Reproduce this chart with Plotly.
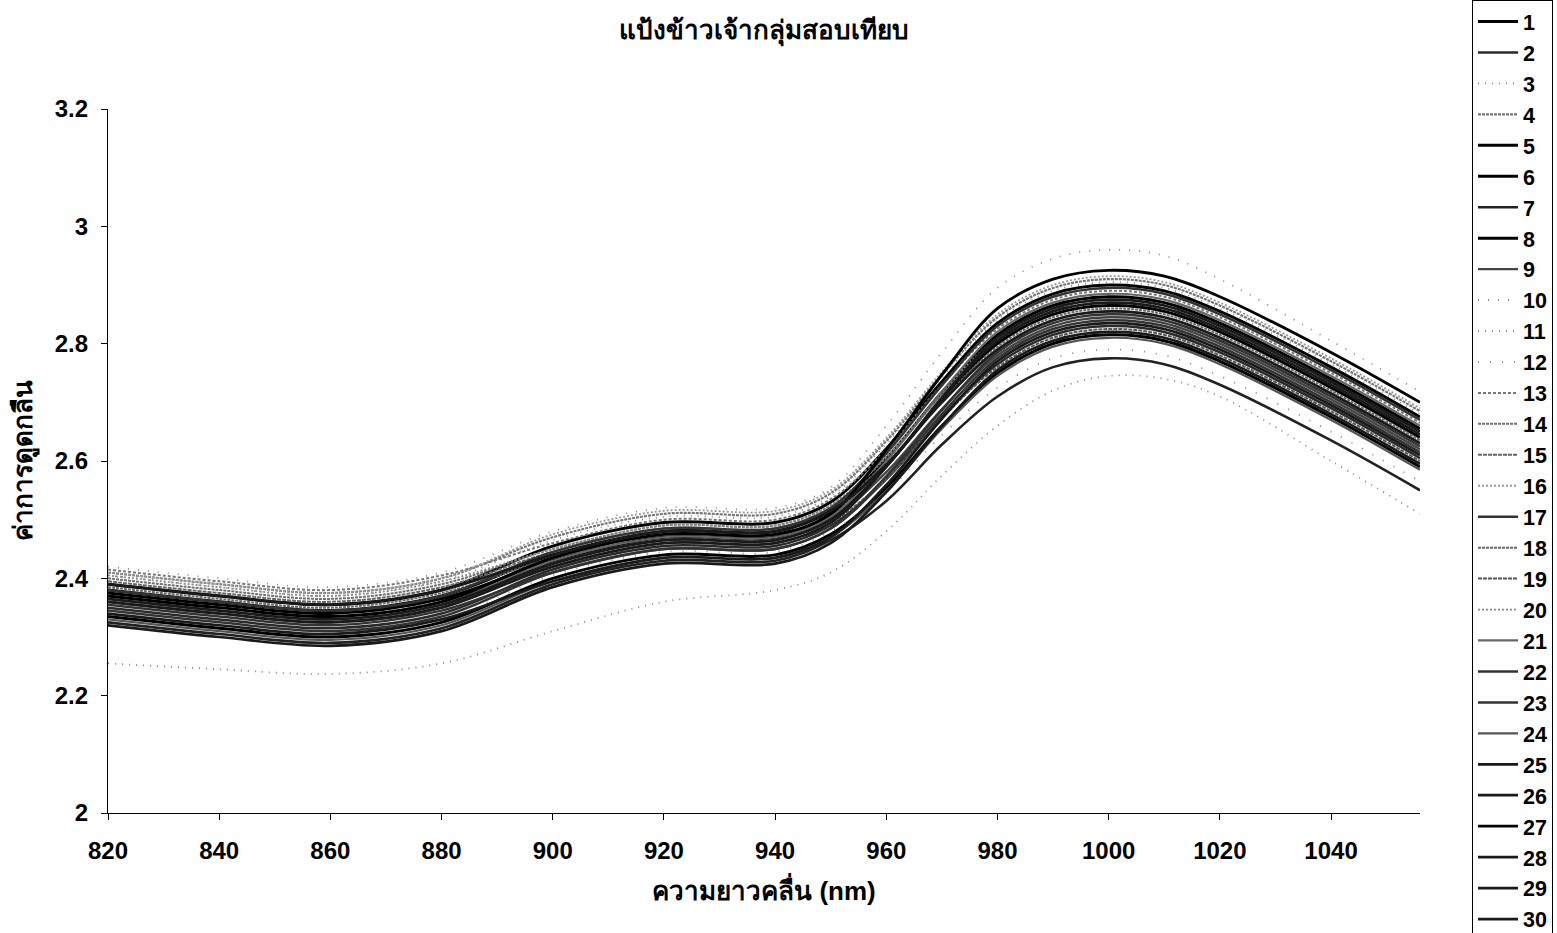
import plotly.graph_objects as go

wavelength = [820, 840, 860, 880, 900, 920, 940, 950, 960, 970, 980, 990, 1000, 1010, 1020, 1040, 1056]

s1 = [2.380, 2.360, 2.345, 2.370, 2.440, 2.480, 2.480, 2.515, 2.604, 2.717, 2.815, 2.865, 2.880, 2.870, 2.835, 2.740, 2.655]
s2 = [2.350, 2.330, 2.315, 2.340, 2.415, 2.455, 2.455, 2.490, 2.569, 2.675, 2.765, 2.815, 2.830, 2.820, 2.785, 2.690, 2.605]
s3 = [2.255, 2.245, 2.237, 2.255, 2.310, 2.360, 2.380, 2.410, 2.480, 2.575, 2.660, 2.720, 2.745, 2.740, 2.710, 2.600, 2.510]
s4 = [2.410, 2.390, 2.375, 2.400, 2.470, 2.510, 2.510, 2.545, 2.634, 2.747, 2.845, 2.895, 2.910, 2.900, 2.865, 2.770, 2.685]
s5 = [2.335, 2.315, 2.300, 2.325, 2.400, 2.440, 2.440, 2.475, 2.554, 2.660, 2.750, 2.800, 2.815, 2.805, 2.770, 2.675, 2.590]
s6 = [2.375, 2.355, 2.340, 2.365, 2.430, 2.470, 2.470, 2.505, 2.592, 2.704, 2.800, 2.850, 2.865, 2.855, 2.820, 2.725, 2.640]
s7 = [2.325, 2.305, 2.290, 2.315, 2.390, 2.430, 2.430, 2.465, 2.532, 2.628, 2.710, 2.760, 2.775, 2.765, 2.730, 2.635, 2.550]
s8 = [2.390, 2.370, 2.355, 2.380, 2.455, 2.495, 2.495, 2.530, 2.621, 2.735, 2.835, 2.885, 2.900, 2.890, 2.855, 2.760, 2.675]
s9 = [2.360, 2.340, 2.325, 2.350, 2.425, 2.465, 2.465, 2.500, 2.581, 2.688, 2.780, 2.830, 2.845, 2.835, 2.800, 2.705, 2.620]
s10 = [2.420, 2.400, 2.385, 2.410, 2.480, 2.520, 2.520, 2.555, 2.660, 2.785, 2.895, 2.945, 2.960, 2.950, 2.910, 2.805, 2.718]
s11 = [2.405, 2.385, 2.370, 2.395, 2.465, 2.505, 2.505, 2.540, 2.629, 2.742, 2.840, 2.890, 2.905, 2.895, 2.860, 2.765, 2.680]
s12 = [2.340, 2.320, 2.305, 2.330, 2.405, 2.445, 2.445, 2.480, 2.547, 2.644, 2.725, 2.775, 2.790, 2.780, 2.745, 2.650, 2.565]
s13 = [2.415, 2.395, 2.380, 2.405, 2.460, 2.500, 2.500, 2.535, 2.620, 2.730, 2.825, 2.875, 2.890, 2.880, 2.845, 2.750, 2.665]
s14 = [2.400, 2.380, 2.365, 2.390, 2.450, 2.490, 2.490, 2.525, 2.606, 2.713, 2.805, 2.855, 2.870, 2.860, 2.825, 2.730, 2.645]
s15 = [2.395, 2.375, 2.360, 2.385, 2.445, 2.485, 2.485, 2.520, 2.597, 2.701, 2.790, 2.840, 2.855, 2.845, 2.810, 2.715, 2.630]
s16 = [2.410, 2.390, 2.375, 2.400, 2.475, 2.515, 2.515, 2.550, 2.639, 2.752, 2.850, 2.900, 2.915, 2.905, 2.870, 2.775, 2.690]
s17 = [2.345, 2.325, 2.310, 2.335, 2.410, 2.450, 2.450, 2.485, 2.570, 2.680, 2.775, 2.825, 2.840, 2.830, 2.795, 2.700, 2.615]
s18 = [2.385, 2.365, 2.350, 2.375, 2.435, 2.475, 2.475, 2.510, 2.593, 2.702, 2.795, 2.845, 2.860, 2.850, 2.815, 2.720, 2.635]
s19 = [2.370, 2.350, 2.335, 2.360, 2.420, 2.460, 2.460, 2.495, 2.570, 2.673, 2.760, 2.810, 2.825, 2.815, 2.780, 2.685, 2.600]
s20 = [2.405, 2.385, 2.370, 2.395, 2.450, 2.490, 2.490, 2.525, 2.608, 2.717, 2.810, 2.860, 2.875, 2.865, 2.830, 2.735, 2.650]
s21 = [2.365, 2.345, 2.330, 2.355, 2.430, 2.470, 2.470, 2.505, 2.600, 2.718, 2.820, 2.870, 2.885, 2.875, 2.840, 2.745, 2.660]
s22 = [2.355, 2.335, 2.320, 2.345, 2.410, 2.450, 2.450, 2.485, 2.574, 2.687, 2.785, 2.835, 2.850, 2.840, 2.805, 2.710, 2.625]
s23 = [2.380, 2.360, 2.345, 2.370, 2.445, 2.485, 2.485, 2.520, 2.613, 2.729, 2.830, 2.880, 2.895, 2.885, 2.850, 2.755, 2.670]
s24 = [2.330, 2.310, 2.295, 2.320, 2.395, 2.435, 2.435, 2.470, 2.549, 2.655, 2.745, 2.795, 2.810, 2.800, 2.765, 2.670, 2.585]
s25 = [2.365, 2.345, 2.330, 2.355, 2.425, 2.465, 2.465, 2.500, 2.591, 2.706, 2.805, 2.855, 2.870, 2.860, 2.825, 2.730, 2.645]
s26 = [2.320, 2.300, 2.285, 2.310, 2.385, 2.425, 2.425, 2.460, 2.547, 2.659, 2.755, 2.805, 2.820, 2.810, 2.775, 2.680, 2.595]
s27 = [2.370, 2.350, 2.335, 2.360, 2.435, 2.475, 2.475, 2.510, 2.619, 2.747, 2.860, 2.910, 2.925, 2.915, 2.880, 2.785, 2.700]
s28 = [2.340, 2.320, 2.305, 2.330, 2.395, 2.435, 2.435, 2.470, 2.559, 2.672, 2.770, 2.820, 2.835, 2.825, 2.790, 2.695, 2.610]
s29 = [2.390, 2.370, 2.355, 2.380, 2.440, 2.480, 2.480, 2.515, 2.594, 2.700, 2.790, 2.840, 2.855, 2.845, 2.810, 2.715, 2.630]
s30 = [2.360, 2.340, 2.325, 2.350, 2.420, 2.460, 2.460, 2.495, 2.590, 2.708, 2.810, 2.860, 2.875, 2.865, 2.830, 2.735, 2.650]

series = [s1, s2, s3, s4, s5, s6, s7, s8, s9, s10, s11, s12, s13, s14, s15,
          s16, s17, s18, s19, s20, s21, s22, s23, s24, s25, s26, s27, s28, s29, s30]
names = [str(i) for i in range(1, 31)]

# (colour, width, dash) per series
styles = [
    ("#000000", 3.0, "solid"), ("#2a2a2a", 2.5, "solid"), ("#888888", 1.8, "1px,6px"),
    ("#777777", 2.2, "3px,1px"), ("#000000", 3.0, "solid"), ("#000000", 3.0, "solid"),
    ("#222222", 2.6, "solid"), ("#000000", 3.0, "solid"), ("#444444", 2.4, "solid"),
    ("#8a8a8a", 1.8, "1px,9px"), ("#8a8a8a", 1.8, "1px,6px"), ("#8a8a8a", 1.8, "1px,11px"),
    ("#777777", 2.0, "3px,2px"), ("#707070", 2.0, "3px,1px"), ("#666666", 2.0, "4px,1px"),
    ("#999999", 1.8, "2px,2px"), ("#333333", 2.5, "solid"), ("#666666", 2.0, "3px,1px"),
    ("#555555", 2.0, "4px,1px"), ("#8a8a8a", 1.8, "2px,2px"), ("#666666", 2.2, "solid"),
    ("#333333", 2.5, "solid"), ("#333333", 2.5, "solid"), ("#555555", 2.2, "solid"),
    ("#1a1a1a", 2.7, "solid"), ("#1a1a1a", 2.7, "solid"), ("#000000", 2.9, "solid"),
    ("#1a1a1a", 2.7, "solid"), ("#1a1a1a", 2.7, "solid"), ("#1a1a1a", 2.7, "solid"),
]

fig = go.Figure()
for name, ys, (col, w, dash) in zip(names, series, styles):
    fig.add_trace(go.Scatter(
        x=wavelength, y=ys, name=name, mode="lines",
        line=dict(color=col, width=w, dash=dash, shape="spline", smoothing=1.0),
    ))

bold = dict(family="Liberation Sans, Arial, sans-serif", color="black", weight="bold")

fig.update_layout(
    width=1557, height=933,
    paper_bgcolor="white", plot_bgcolor="white",
    margin=dict(l=108, r=137, t=109, b=120, autoexpand=False),
    title=dict(text="แป้งข้าวเจ้ากลุ่มสอบเทียบ", x=0.491, xanchor="center",
               y=1 - 30 / 933, yanchor="middle", font=dict(size=26, **bold)),
    xaxis=dict(range=[820, 1056], dtick=20, tick0=820, showgrid=False, zeroline=False,
               showline=True, linecolor="black", linewidth=1.2,
               ticks="outside", ticklen=6, tickcolor="black", ticklabelstandoff=10,
               tickfont=dict(size=24, **bold),
               title=dict(text="ความยาวคลื่น (nm)", font=dict(size=26, **bold), standoff=18)),
    yaxis=dict(range=[2, 3.2], dtick=0.2, tick0=2, showgrid=False, zeroline=False,
               showline=True, linecolor="black", linewidth=1.2,
               ticks="outside", ticklen=6, tickcolor="black", ticklabelstandoff=8,
               tickfont=dict(size=24, **bold),
               title=dict(text="ค่าการดูดกลืน", font=dict(size=26, **bold), standoff=14)),
    legend=dict(x=(1472 - 108) / 1312, xanchor="left", y=(813 - 0) / 704, yanchor="top",
                bordercolor="black", borderwidth=1, bgcolor="white",
                font=dict(size=21.5, **bold), tracegroupgap=0, itemwidth=40,
                maxheight=1000),
    showlegend=True,
)

fig.write_html("out.html")
